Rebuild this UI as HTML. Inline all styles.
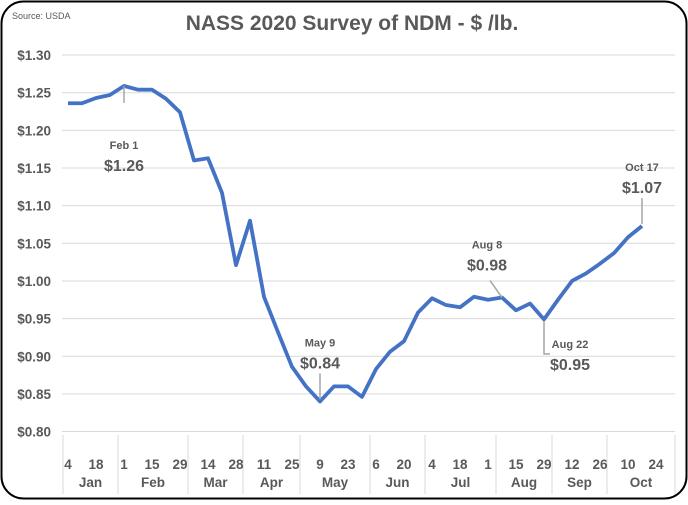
<!DOCTYPE html>
<html><head><meta charset="utf-8"><style>
body{margin:0;background:#fff;font-family:"Liberation Sans",sans-serif}
svg text{font-family:"Liberation Sans",sans-serif;fill:#595959;font-weight:bold}
</style></head><body>
<svg width="688" height="500" viewBox="0 0 688 500">
<rect x="1.5" y="1.5" width="685" height="497" rx="22" fill="#fff" stroke="#000" stroke-width="2"/>
<text x="12" y="19" font-size="9" style="font-weight:normal">Source: USDA</text>
<text x="352" y="30" font-size="21" text-anchor="middle">NASS 2020 Survey of NDM - $ /lb.</text>
<g id="grid"></g><g id="xaxis"></g><g id="series"></g><g id="ann"></g>
</svg>
<script>
const values=[1.236,1.236,1.243,1.247,1.259,1.254,1.254,1.242,1.224,1.160,1.163,1.117,1.021,1.080,0.979,0.932,0.886,0.860,0.840,0.860,0.860,0.846,0.883,0.906,0.920,0.958,0.977,0.968,0.965,0.979,0.975,0.978,0.961,0.970,0.949,0.975,1.000,1.010,1.023,1.037,1.058,1.073];
const yTicks=[0.80,0.85,0.90,0.95,1.00,1.05,1.10,1.15,1.20,1.25,1.30];
const dayLabels=["4","18","1","15","29","14","28","11","25","9","23","6","20","4","18","1","15","29","12","26","10","24"];
const months=["Jan","Feb","Mar","Apr","May","Jun","Jul","Aug","Sep","Oct"];
const monthBounds=[63,118,188,243,300,370,425,496,552,607,675];
const annotations=[{i:4,d:"Feb 1",v:"$1.26"},{i:18,d:"May 9",v:"$0.84"},{i:31,d:"Aug 8",v:"$0.98"},{i:34,d:"Aug 22",v:"$0.95"},{i:41,d:"Oct 17",v:"$1.07"}];
const NS="http://www.w3.org/2000/svg";
const y=v=>92.7+(1.25-v)*753;
const x=i=>68+i*14.0;
function mk(tag,attrs,parent,txt){const e=document.createElementNS(NS,tag);for(const k in attrs)e.setAttribute(k,attrs[k]);if(txt!=null)e.textContent=txt;parent.appendChild(e);return e;}
const grid=document.getElementById('grid');
yTicks.forEach(v=>{
 const l=mk('line',{x1:62,x2:675,y1:y(v),y2:y(v),stroke:'#d9d9d9','stroke-width':1},grid);
 
 
 const t=mk('text',{x:51,y:y(v)+5,'font-size':13.5,'text-anchor':'end'},grid,'$'+v.toFixed(2));
 
 
});
const xa=document.getElementById('xaxis');
monthBounds.forEach(b=>{
 const l=mk('line',{x1:b,x2:b,y1:435,y2:494,stroke:'#d9d9d9','stroke-width':1},xa);
 
 
});
dayLabels.forEach((d,k)=>{
 const t=mk('text',{x:x(k*2),y:469,'font-size':13.5,'text-anchor':'middle'},xa,d);
 
 
});
months.forEach((m,k)=>{
 const t=mk('text',{x:(monthBounds[k]+monthBounds[k+1])/2,y:487,'font-size':13.5,'text-anchor':'middle'},xa,m);
 
 
});
const s=document.getElementById('series');
const pl=mk('polyline',{points:values.map((v,i)=>x(i)+','+y(v)).join(' '),fill:'none',stroke:'#4472c4','stroke-width':3.8,'stroke-linejoin':'round'},s);


const an=document.getElementById('ann');
annotations.forEach(a=>{
 const px=x(a.i),py=y(values[a.i]);
 let lx,ly,path;
 if(a.d==="Aug 22"){lx=570;ly=348;path=`M${px},${py+2} L${px},354 L${px+6},354`;}
 else if(a.d==="Aug 8"){lx=px-15;ly=py-49;path=`M${px-12},${py-17} L${px},${py}`;}
 else if(a.d==="Feb 1"){lx=px;ly=py+63;path=`M${px},${py} L${px},${py+17}`;}
 else {lx=px;ly=py-55;path=`M${px},${py-2} L${px},${py-28}`;}
 const p=mk('path',{d:path,stroke:'#a6a6a6','stroke-width':1.5,fill:'none'},an);
 
 
 const t1=mk('text',{x:lx,y:ly,'font-size':11,'text-anchor':'middle'},an,a.d);
 
 
 const t2=mk('text',{x:lx,y:ly+22,'font-size':16,'text-anchor':'middle'},an,a.v);
 
 
});
</script>
</body></html>
